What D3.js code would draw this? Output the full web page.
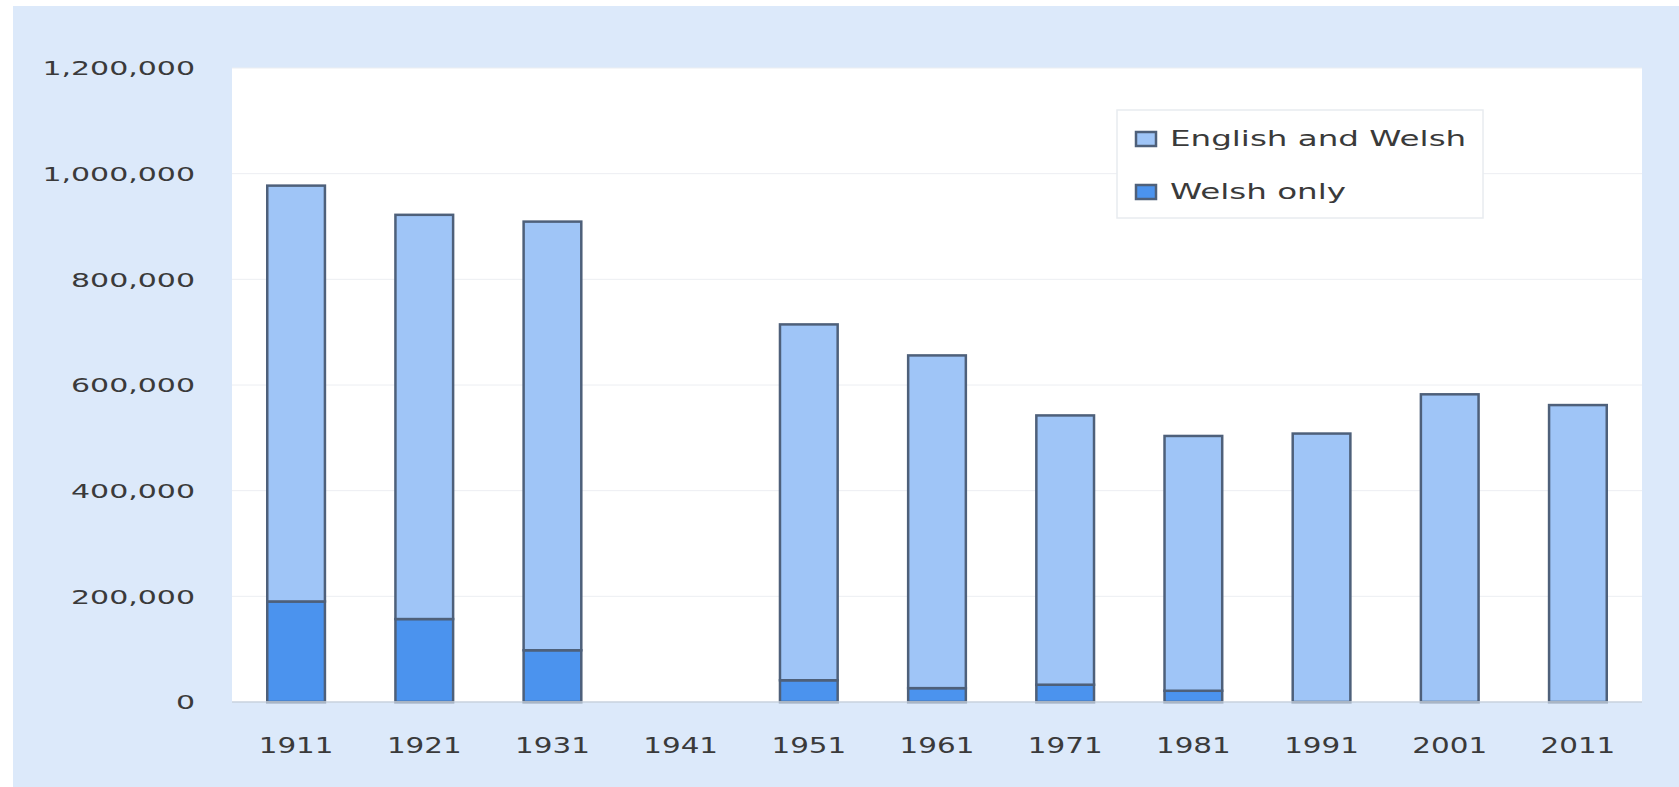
<!DOCTYPE html>
<html>
<head>
<meta charset="utf-8">
<script src="https://cdn.jsdelivr.net/npm/d3@7/dist/d3.min.js"></script>
<style>
  html, body { margin: 0; padding: 0; background: #ffffff; }
  svg { display: block; }
</style>
</head>
<body>
<svg id="chart" width="1679" height="787"></svg>
<script>
// ---- Data ----
const years = ["1911", "1921", "1931", "1941", "1951", "1961", "1971", "1981", "1991", "2001", "2011"];
const welshOnly = [190292, 156995, 97932, null, 41155, 26223, 32725, 21283, 0, 0, 0];
const englishAndWelsh = [787074, 765097, 811329, null, 673531, 629779, 509700, 482266, 508098, 582368, 562016];
const seriesNames = ["Welsh only", "English and Welsh"];
const legendNames = ["English and Welsh", "Welsh only"];
const yTicks = [0, 200000, 400000, 600000, 800000, 1000000, 1200000];

// ---- Build table ----
const rows = years.map((yr, i) => ({
  year: yr,
  "Welsh only": welshOnly[i],
  "English and Welsh": englishAndWelsh[i],
  hasData: welshOnly[i] !== null
}));

const svg = d3.select("#chart");
const W = 1679, H = 787;
const plot = { left: 232, right: 1642, top: 68, bottom: 702 };

const colors = {
  "English and Welsh": "#9fc5f7",
  "Welsh only": "#4b93ee"
};
const barStroke = "#4e607a";
const textColor = "#3a3a3a";
const fontFamily = "'DejaVu Sans', 'Liberation Sans', sans-serif";

// background panel
svg.append("rect").attr("x", 0).attr("y", 0).attr("width", W).attr("height", H).attr("fill", "#ffffff");
svg.append("rect").attr("x", 13).attr("y", 6).attr("width", W - 13).attr("height", H - 6).attr("fill", "#dce9fa");
svg.append("rect").attr("x", plot.left).attr("y", plot.top)
  .attr("width", plot.right - plot.left).attr("height", plot.bottom - plot.top)
  .attr("fill", "#ffffff");

// scales
const x = d3.scaleBand().domain(years).range([plot.left, plot.right])
  .paddingInner(0.55).paddingOuter(0.275);
const y = d3.scaleLinear().domain([0, 1200000]).range([plot.bottom, plot.top]);

// faint gridlines
svg.append("g").selectAll("line").data(yTicks.slice(1)).join("line")
  .attr("x1", plot.left).attr("x2", plot.right)
  .attr("y1", d => y(d)).attr("y2", d => y(d))
  .attr("stroke", "#eceef2").attr("stroke-width", 1);

// stacked bars
const stack = d3.stack().keys(seriesNames).value((d, k) => d[k] || 0);
const stacked = stack(rows.filter(r => r.hasData));

svg.append("g").selectAll("g").data(stacked).join("g")
  .attr("fill", s => colors[s.key])
  .selectAll("rect").data(s => s.filter(d => d[1] > d[0])).join("rect")
  .attr("x", d => x(d.data.year))
  .attr("width", x.bandwidth())
  .attr("y", d => y(d[1]))
  .attr("height", d => y(d[0]) - y(d[1]))
  .attr("stroke", barStroke)
  .attr("stroke-width", 2.5);

// x axis baseline
svg.append("line").attr("x1", plot.left).attr("x2", plot.right)
  .attr("y1", plot.bottom).attr("y2", plot.bottom)
  .attr("stroke", "#c9d2de").attr("stroke-width", 1.5);

// y axis
const yAxis = svg.append("g").attr("transform", `translate(${plot.left},0)`)
  .call(d3.axisLeft(y).tickValues(yTicks).tickFormat(d3.format(",")).tickSize(0));
yAxis.select(".domain").remove();
yAxis.selectAll("text")
  .attr("x", 0).attr("dy", "0.34em")
  .attr("text-anchor", "end")
  .attr("transform", "translate(-37,0) scale(1.5,1)")
  .attr("fill", textColor)
  .style("font-family", fontFamily).style("font-size", "20px");

// x axis labels
const xAxis = svg.append("g").attr("transform", `translate(0,${plot.bottom})`)
  .call(d3.axisBottom(x).tickSize(0));
xAxis.select(".domain").remove();
xAxis.selectAll("text")
  .attr("y", 0).attr("dy", "0.36em")
  .attr("text-anchor", "middle")
  .attr("transform", "translate(0,43) scale(1.4,1)")
  .attr("fill", textColor)
  .style("font-family", fontFamily).style("font-size", "21px");

// legend
const lg = svg.append("g");
lg.append("rect").attr("x", 1117).attr("y", 110).attr("width", 366).attr("height", 108)
  .attr("fill", "#ffffff").attr("stroke", "#e8ebef").attr("stroke-width", 1.5);
const items = lg.selectAll("g.item").data(legendNames).join("g")
  .attr("class", "item")
  .attr("transform", (d, i) => `translate(1136,${139 + i * 53})`);
items.append("rect").attr("x", 0).attr("y", -7).attr("width", 20).attr("height", 14)
  .attr("fill", d => colors[d]).attr("stroke", barStroke).attr("stroke-width", 2.5);
items.append("text")
  .attr("x", 0).attr("dy", "0.35em")
  .attr("transform", "translate(34,0) scale(1.55,1)")
  .attr("fill", textColor)
  .style("font-family", fontFamily).style("font-size", "21px")
  .text(d => d);
</script>
</body>
</html>
